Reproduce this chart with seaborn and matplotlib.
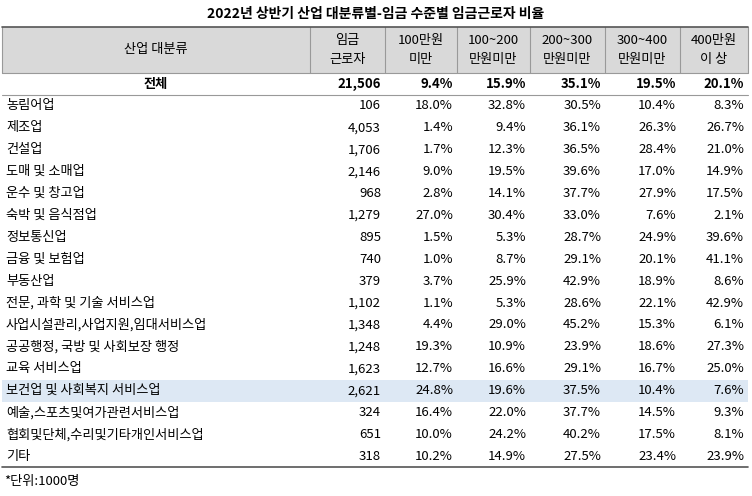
import matplotlib
matplotlib.use("Agg")
import matplotlib.pyplot as plt
import seaborn as sns
from matplotlib.patches import Rectangle
from matplotlib import font_manager

sns.set_theme(style="white")
names = {f.name for f in font_manager.fontManager.ttflist}
fams = [n for n in ["Noto Sans CJK KR", "Noto Sans CJK JP", "Noto Sans CJK SC", "Noto Sans CJK TC"] if n in names]
plt.rcParams["font.family"] = fams + ["DejaVu Sans"]
plt.rcParams["text.color"] = "black"

title = "2022년 상반기 산업 대분류별-임금 수준별 임금근로자 비율"
col_headers = ["임금\n근로자", "100만원\n미만", "100~200\n만원미만", "200~300\n만원미만", "300~400\n만원미만", "400만원\n이 상"]
total_label = "전체"
total_workers = "21,506"
total_pcts = [9.4, 15.9, 35.1, 19.5, 20.1]
categories = ["농림어업", "제조업", "건설업", "도매 및 소매업", "운수 및 창고업", "숙박 및 음식점업",
              "정보통신업", "금융 및 보험업", "부동산업", "전문, 과학 및 기술 서비스업",
              "사업시설관리,사업지원,임대서비스업", "공공행정, 국방 및 사회보장 행정", "교육 서비스업",
              "보건업 및 사회복지 서비스업", "예술,스포츠및여가관련서비스업", "협회및단체,수리및기타개인서비스업", "기타"]
workers = [106, 4053, 1706, 2146, 968, 1279, 895, 740, 379, 1102, 1348, 1248, 1623, 2621, 324, 651, 318]
p_lt100 = [18.0, 1.4, 1.7, 9.0, 2.8, 27.0, 1.5, 1.0, 3.7, 1.1, 4.4, 19.3, 12.7, 24.8, 16.4, 10.0, 10.2]
p_100_200 = [32.8, 9.4, 12.3, 19.5, 14.1, 30.4, 5.3, 8.7, 25.9, 5.3, 29.0, 10.9, 16.6, 19.6, 22.0, 24.2, 14.9]
p_200_300 = [30.5, 36.1, 36.5, 39.6, 37.7, 33.0, 28.7, 29.1, 42.9, 28.6, 45.2, 23.9, 29.1, 37.5, 37.7, 40.2, 27.5]
p_300_400 = [10.4, 26.3, 28.4, 17.0, 27.9, 7.6, 24.9, 20.1, 18.9, 22.1, 15.3, 18.6, 16.7, 10.4, 14.5, 17.5, 23.4]
p_ge400 = [8.3, 26.7, 21.0, 14.9, 17.5, 2.1, 39.6, 41.1, 8.6, 42.9, 6.1, 27.3, 25.0, 7.6, 9.3, 8.1, 23.9]
highlight = "보건업 및 사회복지 서비스업"
footnote = "*단위:1000명"

fig = plt.figure(figsize=(7.52, 4.96), dpi=100)
ax = fig.add_axes([0, 0, 1, 1])
ax.set_xlim(0, 752); ax.set_ylim(496, 0); ax.axis("off")

xb = [2, 310, 385, 457, 530, 605, 680, 748]
hy0, hy1 = 27, 73
ty1 = 95
rh = 21.9
fs = 9.5

ax.text(376, 14, title, ha="center", va="center", fontsize=10, fontweight="bold")
ax.add_patch(Rectangle((xb[0], hy0), xb[-1]-xb[0], hy1-hy0, facecolor="#d9d9d9", edgecolor="none"))
ax.text((xb[0]+xb[1])/2, (hy0+hy1)/2, "산업 대분류", ha="center", va="center", fontsize=fs)
for i, h in enumerate(col_headers):
    ax.text((xb[i+1]+xb[i+2])/2, (hy0+hy1)/2, h, ha="center", va="center", fontsize=fs, linespacing=1.6)
for x in xb:
    ax.plot([x, x], [hy0, hy1], color="#999999", lw=0.8)
ax.plot([xb[0], xb[-1]], [hy0, hy0], color="#555555", lw=1.2)
ax.plot([xb[0], xb[-1]], [hy1, hy1], color="#999999", lw=0.8)

def row(y0, label, w, pcts, bold=False, color=None):
    yc = y0 + rh/2
    if color:
        ax.add_patch(Rectangle((xb[0], y0), xb[-1]-xb[0], rh, facecolor=color, edgecolor="none"))
    fw = "bold" if bold else "normal"
    if bold:
        ax.text((xb[0]+xb[1])/2, yc, label, ha="center", va="center", fontsize=fs, fontweight=fw)
    else:
        ax.text(xb[0]+4, yc, label, ha="left", va="center", fontsize=fs)
    ax.text(xb[2]-4, yc, w, ha="right", va="center", fontsize=fs, fontweight=fw)
    for j, p in enumerate(pcts):
        ax.text(xb[j+3]-4, yc, f"{p:.1f}%", ha="right", va="center", fontsize=fs, fontweight=fw)

row(hy1, total_label, total_workers, total_pcts, bold=True)
ax.plot([xb[0], xb[-1]], [ty1, ty1], color="#999999", lw=0.8)
for k, c in enumerate(categories):
    y0 = ty1 + k*rh
    pcts = [p_lt100[k], p_100_200[k], p_200_300[k], p_300_400[k], p_ge400[k]]
    row(y0, c, f"{workers[k]:,}", pcts, color="#dde8f4" if c == highlight else None)
yend = ty1 + len(categories)*rh
ax.plot([xb[0], xb[-1]], [yend, yend], color="#555555", lw=1.2)
ax.text(4, 481, footnote, ha="left", va="center", fontsize=fs)

fig.savefig("out.png", dpi=100)
